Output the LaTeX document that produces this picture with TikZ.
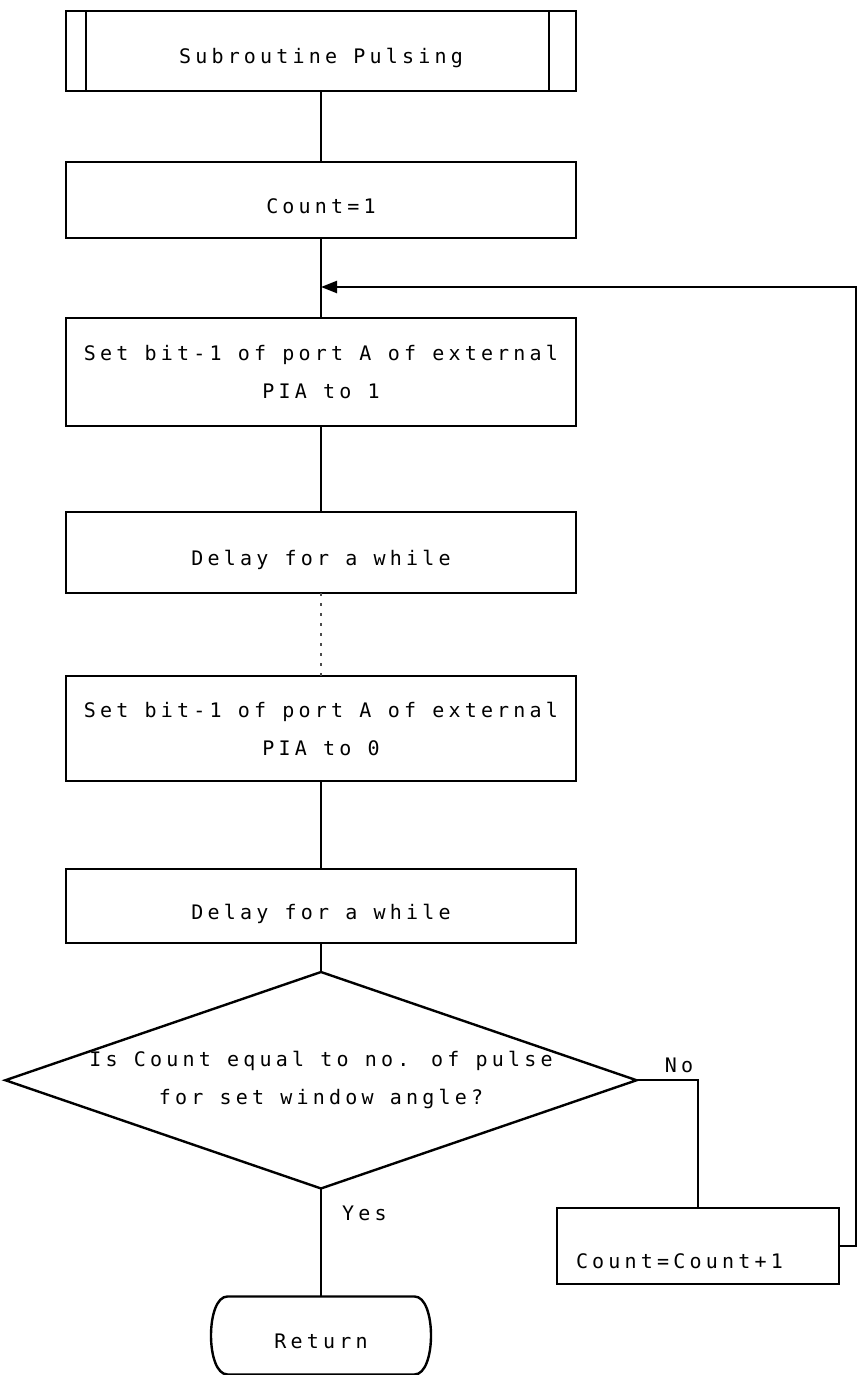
\documentclass[tikz,border=0pt]{standalone}
\usepackage{fontspec}
\newfontfamily\dotfont{DejaVu Sans Mono}[LetterSpace=21]
\usetikzlibrary{positioning,arrows.meta,shapes.geometric}

\begin{document}
\begin{tikzpicture}[
  x=1pt, y=-1pt,
  font=\dotfont\fontsize{20pt}{38pt}\selectfont,
  box/.style={
    rectangle,
    draw=black,
    line width=2.4pt,
    minimum width=510pt,
    inner sep=0pt,
    outer sep=0pt,
    align=center,
  },
  low/.style={text height=26pt, text depth=0pt},
  decision/.style={
    diamond,
    draw=black,
    line width=2.4pt,
    aspect=2.916,
    inner sep=0pt,
    outer sep=0pt,
    minimum width=627pt,
    minimum height=215pt,
    align=center,
  },
  term/.style={
    rectangle,
    inner sep=0pt,
    outer sep=0pt,
    minimum width=187pt,
    minimum height=78pt,
  },
  lbl/.style={inner sep=0pt},
  flow/.style={line width=2.4pt, draw=black},
  faint/.style={line width=1.4pt, dash pattern=on 3pt off 7pt, draw=black!70},
  back/.style={flow, -{Triangle[length=16pt,width=12pt]}},
]
  \useasboundingbox (0,0) rectangle (859,1375);

  % --- main column ---
  \node[box, low, minimum height=80pt] (sub) at (321,51) {Subroutine Pulsing};
  \draw[flow] ([xshift=20pt]sub.north west) -- ([xshift=20pt]sub.south west);
  \draw[flow] ([xshift=-27pt]sub.north east) -- ([xshift=-27pt]sub.south east);

  \node[box, low, minimum height=76pt, below=71pt of sub] (cnt) {Count=1};
  \node[box, minimum height=108pt, below=80pt of cnt] (set1) {Set bit-1 of port A of external\\PIA to 1};
  \node[box, low, minimum height=81pt, below=86pt of set1] (dly1) {Delay for a while};
  \node[box, minimum height=105pt, below=83pt of dly1] (set0) {Set bit-1 of port A of external\\PIA to 0};
  \node[box, low, minimum height=74pt, below=88pt of set0] (dly2) {Delay for a while};

  \node[decision, below=29pt of dly2] (dec) {Is Count equal to no. of pulse\\for set window angle?};

  % return terminal with bulging sides
  \node[term, low, below=108pt of dec] (ret) {Return};
  \draw[flow] (ret.north west) -- (ret.north east)
    .. controls ([xshift=22pt]ret.north east) and ([xshift=22pt]ret.south east) .. (ret.south east)
    -- (ret.south west)
    .. controls ([xshift=-22pt]ret.south west) and ([xshift=-22pt]ret.north west) .. (ret.north west);

  \foreach \a/\b in {sub/cnt, cnt/set1, set1/dly1, set0/dly2, dly2/dec, dec/ret} {
    \draw[flow] (\a) -- (\b);
  }
  \draw[faint] (dly1) -- (set0);

  % --- No branch loops back ---
  \node[box, minimum width=282pt, minimum height=76pt, text width=244pt, align=left,
        text height=44pt, text depth=0pt] (inc) at (698,1246) {Count=Count+1};
  \draw[flow] (dec.east) -| (inc.north);

  \coordinate (rail) at (856,287);
  \coordinate (loop) at (321,287);
  \draw[back] (inc.east) -| (rail) -- (loop);

  \node[lbl, above right=7pt and 28pt of dec.east] (no) {No};
  \node[lbl, below right=17pt and 21pt of dec.south] (yes) {Yes};

\end{tikzpicture}
\end{document}
